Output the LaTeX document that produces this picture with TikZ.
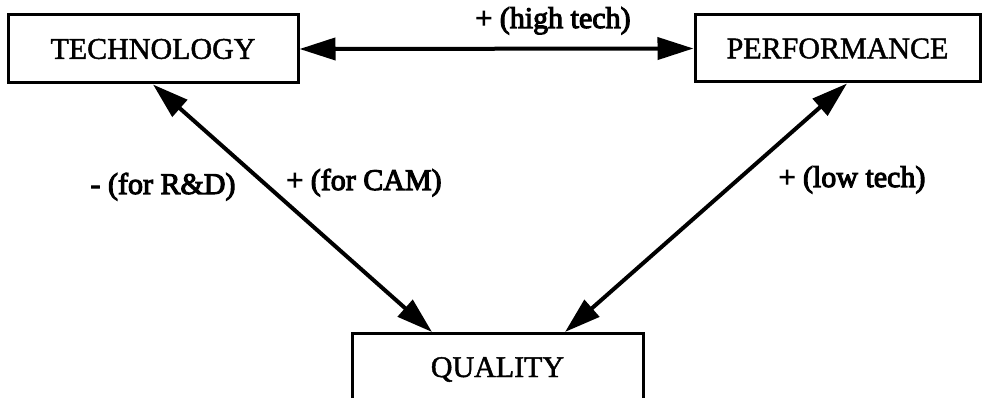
\documentclass[tikz,border=0pt]{standalone}
\usepackage{fontspec}
\setmainfont{Liberation Serif}
\newfontface\boxfont{Liberation Serif}[FakeBold=1.5]
\newfontface\labfont{Liberation Serif}[FakeBold=3.5]
\usetikzlibrary{arrows.meta}
\tikzset{
  box/.style={draw, line width=3pt, inner sep=0pt, font=\boxfont\fontsize{30}{34}\selectfont},
  link/.style={line width=4pt, {Triangle[length=36pt,width=22pt]}-{Triangle[length=36pt,width=22pt]}},
  lab/.style={font=\labfont\fontsize{30}{34}\selectfont, inner sep=0pt, anchor=base}
}
\begin{document}
\begin{tikzpicture}[x=1pt,y=-1pt]
\useasboundingbox (0,0) rectangle (983,398);
\clip (0,0) rectangle (983,398);
\fill[white] (0,0) rectangle (983,398);
\node[box, minimum width=290pt, minimum height=68pt] (tech) at (153,49) {TECHNOLOGY};
\node[box, minimum width=285pt, minimum height=67pt] (perf) at (837.5,48.5) {PERFORMANCE};
\node[box, minimum width=291pt, minimum height=72pt, anchor=north] (qual) at (497.5,332) {QUALITY};
\draw[link] (tech.east) -- (perf.west);
\draw[link] (tech.south) -- (qual.north -| 432,0);
\draw[link] (perf.south -| 847,0) -- (qual.north -| 565,0);
\node[lab] (lhigh) at (553,28) {+ (high tech)};
\node[lab] (lrd) at (163,194) {- (for R\&D)};
\node[lab] (lcam) at (364,190) {+ (for CAM)};
\node[lab] (llow) at (852,187) {+ (low tech)};
\end{tikzpicture}
\end{document}
